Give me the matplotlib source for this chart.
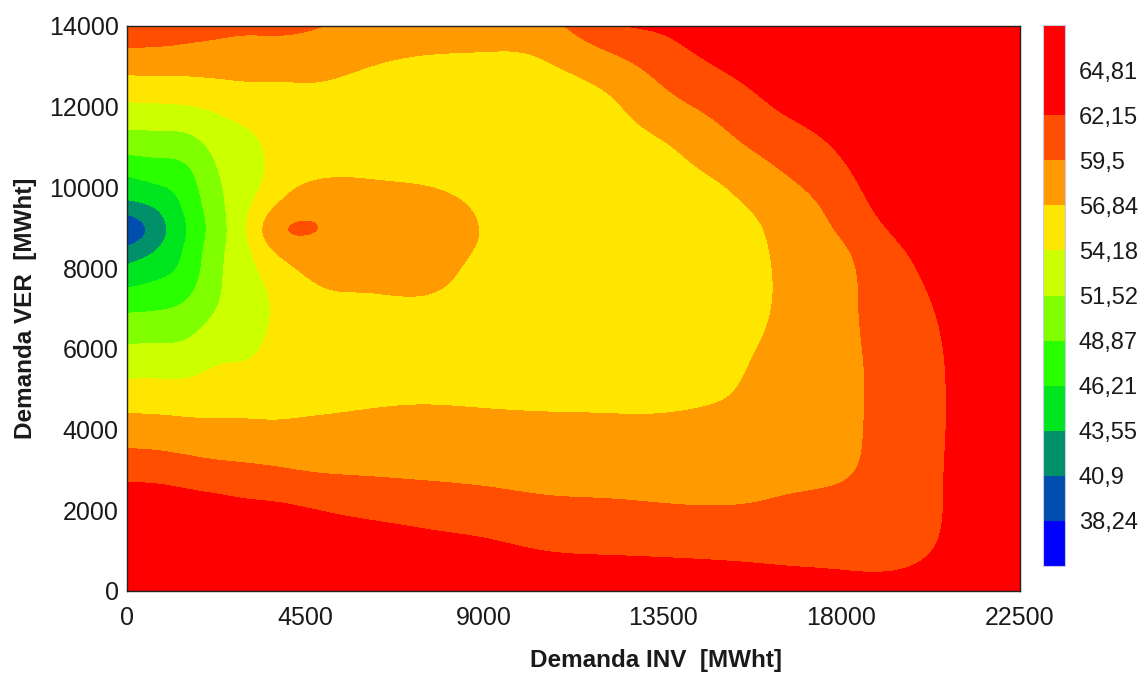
import numpy as np
import matplotlib
matplotlib.use("Agg")
import matplotlib.pyplot as plt
from matplotlib.colors import ListedColormap, BoundaryNorm
from matplotlib.cm import ScalarMappable

# Grid of the parametric study: heating demand (INV) and cooling demand (VER), MWht
demanda_inv = [0, 750, 1500, 2250, 3000, 3750, 4500, 6000, 7500, 9000, 10500,
               12000, 13500, 15000, 16500, 18000, 19500, 21000, 22500]
demanda_ver = [0, 1000, 2000, 3000, 4000, 5000, 6000, 7000, 8000, 8500, 8900,
               9500, 10000, 11000, 12000, 13000, 14000]

# Result value at each grid node; one list per INV column, ordered by VER (bottom to top)
resultado = [
    [67.0, 66.0, 64.2, 61.16, 58.06, 54.96, 51.82, 48.41, 43.93, 41.2, 38.6, 42.3, 44.89, 49.68, 53.71, 57.66, 61.49],
    [66.8, 65.8, 64.1, 61.0, 57.95, 54.93, 51.95, 48.66, 45.12, 43.38, 42.3, 43.7, 45.84, 49.87, 53.8, 57.7, 61.3],
    [66.6, 65.5, 63.69, 60.63, 57.67, 54.93, 52.14, 49.45, 47.1, 46.6, 46.18, 46.75, 47.5, 50.23, 54.01, 57.65, 60.8],
    [66.5, 65.2, 63.31, 60.25, 57.48, 55.29, 53.33, 51.5, 50.81, 50.5, 50.2, 50.5, 50.98, 52.11, 54.62, 57.71, 60.27],
    [66.3, 64.8, 62.9, 60.0, 57.38, 55.5, 53.72, 52.86, 53.24, 53.7, 54.07, 53.7, 53.0, 53.27, 55.35, 57.69, 60.02],
    [66.2, 64.5, 62.69, 59.72, 57.34, 55.5, 54.8, 54.5, 55.7, 57.3, 58.6, 57.0, 55.6, 54.9, 55.6, 57.7, 60.04],
    [66.0, 64.2, 62.32, 59.4, 57.45, 55.6, 55.2, 55.8, 57.2, 58.5, 59.62, 58.6, 57.09, 55.5, 55.9, 57.63, 59.8],
    [65.8, 64.1, 61.54, 59.18, 57.6, 56.1, 55.4, 56.35, 57.6, 58.2, 58.3, 58.1, 57.2, 56.0, 55.9, 56.9, 58.76],
    [65.6, 63.42, 61.05, 59.03, 57.69, 56.3, 55.5, 56.4, 57.6, 58.0, 58.2, 57.8, 56.9, 56.0, 55.8, 56.4, 58.3],
    [65.0, 62.85, 60.62, 58.86, 57.59, 56.2, 55.6, 56.0, 56.3, 56.6, 56.7, 56.5, 56.2, 56.2, 55.9, 56.3, 58.1],
    [64.6, 62.13, 60.11, 58.64, 57.41, 56.2, 55.7, 55.8, 55.9, 55.95, 56.0, 55.95, 55.9, 55.9, 56.0, 56.6, 58.5],
    [64.4, 61.89, 59.95, 58.54, 57.29, 56.3, 55.9, 55.9, 55.9, 55.9, 55.9, 55.9, 55.9, 56.0, 56.3, 58.15, 61.6],
    [64.3, 61.74, 59.76, 58.47, 57.3, 56.3, 56.0, 55.9, 55.9, 55.9, 55.9, 56.0, 56.1, 56.6, 58.47, 60.43, 62.6],
    [64.0, 61.57, 59.65, 58.61, 57.64, 56.6, 56.2, 56.0, 56.0, 56.1, 56.2, 56.4, 56.75, 58.54, 60.38, 62.33, 64.2],
    [63.17, 61.52, 59.88, 58.9, 57.9, 57.88, 57.44, 57.1, 57.07, 57.15, 57.29, 57.8, 58.7, 60.61, 62.4, 63.8, 65.0],
    [62.77, 61.58, 60.39, 59.2, 58.9, 58.9, 58.9, 58.9, 58.88, 59.2, 59.76, 60.55, 61.16, 62.5, 63.8, 65.0, 66.0],
    [62.9, 61.6, 61.0, 60.9, 60.68, 60.65, 60.73, 61.0, 61.56, 62.05, 62.6, 63.4, 64.0, 65.0, 66.0, 66.6, 67.0],
    [63.6, 62.9, 62.7, 62.6, 62.6, 62.6, 62.7, 63.0, 63.5, 63.8, 64.1, 64.6, 65.0, 65.8, 66.4, 66.8, 67.0],
    [65.0, 64.6, 64.4, 64.3, 64.3, 64.3, 64.4, 64.6, 65.0, 65.3, 65.55, 65.9, 66.2, 66.7, 67.0, 67.2, 67.4],
]

# Contour levels and legend labels
niveles = [35.58, 38.24, 40.9, 43.55, 46.21, 48.87, 51.52, 54.18, 56.84, 59.5, 62.15, 64.81, 67.47]
etiquetas_barra = ["38,24", "40,9", "43,55", "46,21", "48,87", "51,52", "54,18",
                   "56,84", "59,5", "62,15", "64,81"]
colores = ["#0000FF", "#004FAF", "#00906A", "#00E61E", "#2AFF00", "#80FF00",
           "#CCFF00", "#FFE600", "#FF9A00", "#FF4E00", "#FF0000", "#FF0000"]

x_ticks = [0, 4500, 9000, 13500, 18000, 22500]
y_ticks = [0, 2000, 4000, 6000, 8000, 10000, 12000, 14000]


def natural_spline(xk, yk, xq):
    """Natural cubic spline through knots xk (axis 0 of yk), evaluated at xq."""
    xk = np.asarray(xk, float)
    yk = np.asarray(yk, float)
    n = len(xk)
    h = np.diff(xk)
    A = np.zeros((n, n))
    r = np.zeros((n,) + yk.shape[1:])
    A[0, 0] = A[-1, -1] = 1.0
    for i in range(1, n - 1):
        A[i, i - 1] = h[i - 1]
        A[i, i] = 2 * (h[i - 1] + h[i])
        A[i, i + 1] = h[i]
        r[i] = 6 * ((yk[i + 1] - yk[i]) / h[i] - (yk[i] - yk[i - 1]) / h[i - 1])
    M = np.linalg.solve(A, r.reshape(n, -1)).reshape(r.shape)
    idx = np.clip(np.searchsorted(xk, xq) - 1, 0, n - 2)
    x0, x1, hh = xk[idx], xk[idx + 1], h[idx]
    extra = (slice(None),) + (None,) * (yk.ndim - 1)
    a = (x1 - xq)[extra]
    b = (xq - x0)[extra]
    hh = hh[extra]
    return (M[idx] * a ** 3 / (6 * hh) + M[idx + 1] * b ** 3 / (6 * hh)
            + (yk[idx] / hh - M[idx] * hh / 6) * a
            + (yk[idx + 1] / hh - M[idx + 1] * hh / 6) * b)


plt.rcParams["font.family"] = ["Liberation Sans", "DejaVu Sans"]

W, H = 1142, 673
fig = plt.figure(figsize=(W / 100, H / 100), dpi=100)
ax = fig.add_axes([127 / W, 1 - 591 / H, 893 / W, 565 / H])

# Smooth bicubic surface through the grid nodes
ZG = np.array(resultado)              # shape (n_inv, n_ver)
xi = np.linspace(demanda_inv[0], demanda_inv[-1], 900)
yi = np.linspace(demanda_ver[0], demanda_ver[-1], 600)
Zy = natural_spline(demanda_ver, ZG.T, yi)          # (n_yi, n_inv)
ZI = natural_spline(demanda_inv, Zy.T, xi).T        # (n_yi, n_xi)
XI, YI = np.meshgrid(xi, yi)

cmap = ListedColormap(colores).with_extremes(under=colores[0], over=colores[-1])
norm = BoundaryNorm(niveles, len(colores))
ax.contourf(XI, YI, ZI, levels=niveles, cmap=cmap, norm=norm, extend="both",
            antialiased=False)

ax.set_xlim(0, 22500)
ax.set_ylim(0, 14000)
ax.set_xticks(x_ticks)
ax.set_xticklabels([str(v) for v in x_ticks])
ax.set_yticks(y_ticks)
ax.set_yticklabels([str(v) for v in y_ticks])
ax.tick_params(axis="both", which="both", length=0, labelsize=18, colors="#1a1a1a")
ax.tick_params(axis="x", pad=11)
ax.tick_params(axis="y", pad=6)
for s in ax.spines.values():
    s.set_color("#222222")
    s.set_linewidth(1.0)

# Colour bar
cax = fig.add_axes([1043 / W, 1 - 566 / H, 22 / W, 541 / H])
sm = ScalarMappable(norm=BoundaryNorm(niveles, len(colores)), cmap=ListedColormap(colores))
cb = fig.colorbar(sm, cax=cax, ticks=niveles[1:-1])
cb.minorticks_off()
cb.ax.set_yticklabels(etiquetas_barra)
cb.ax.tick_params(which="both", length=0, labelsize=17, pad=10, colors="#1a1a1a")
cb.outline.set_edgecolor("#c8c8e8")
cb.outline.set_linewidth(0.8)

fig.text(656 / W, 1 - 661 / H, "Demanda INV  [MWht]", fontsize=17.5,
         fontweight="bold", ha="center", va="center", color="#1a1a1a")
fig.text(26 / W, 1 - 308 / H, "Demanda VER  [MWht]", fontsize=17.5,
         fontweight="bold", ha="center", va="center", rotation=90, color="#1a1a1a")

fig.savefig("out.png", dpi=100)
